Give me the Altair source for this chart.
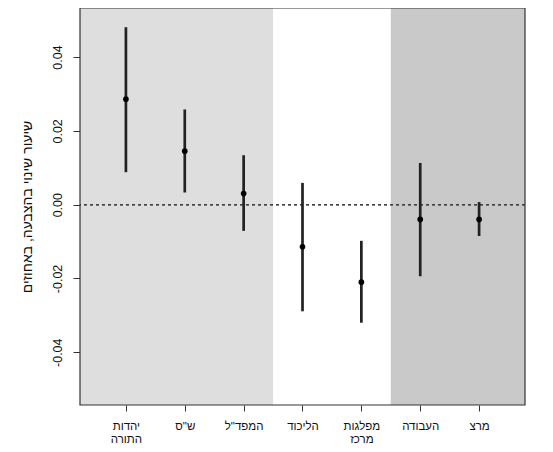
import json
import altair as alt
import pandas as pd

# ---- data ----
party_lines = [["יהדות", "התורה"], ['ש"ס'], ['המפד"ל'], ["הליכוד"],
               ["מפלגות", "מרכז"], ["העבודה"], ["מרצ"]]
positions = [1, 2, 3, 4, 5, 6, 7]
estimate = [0.0286, 0.0145, 0.0030, -0.0114, -0.0210, -0.0040, -0.0040]
ci_low = [0.0088, 0.0033, -0.0071, -0.0289, -0.0320, -0.0194, -0.0085]
ci_high = [0.0481, 0.0258, 0.0134, 0.0059, -0.0098, 0.0113, 0.0007]

band_start = [0.22, 3.5, 5.5]
band_end = [3.5, 5.5, 7.78]
band_group = ["religious", "center", "left"]
band_colors = ["#DEDEDE", "#FFFFFF", "#C9C9C9"]

y_ticks = [-0.04, -0.02, 0.0, 0.02, 0.04]
y_title = "שיעור שינוי בהצבעה, באחוזים"

PLOT_W = 445
PLOT_H = 397
FONT = "Liberation Sans"

points = pd.DataFrame({"pos": positions, "est": estimate, "lo": ci_low, "hi": ci_high})
bands = pd.DataFrame({"start": band_start, "end": band_end, "group": band_group})
frame = pd.DataFrame({"frame": [0]})

xscale = alt.Scale(domain=[0.22, 7.78], nice=False, zero=False)
yscale = alt.Scale(domain=[-0.0543, 0.0533], nice=False, zero=False)

label_expr = json.dumps(party_lines, ensure_ascii=False) + "[datum.value - 1]"

xaxis = alt.Axis(values=positions, labelExpr=label_expr, title=None, grid=False,
                 domain=False, tickSize=6, tickColor="#333", labelFont=FONT,
                 labelFontSize=11.5, labelColor="#111", labelPadding=9,
                 labelLineHeight=13, labelBaseline="top")
yaxis = alt.Axis(values=y_ticks, labelExpr="(datum.value < 0 ? '-' : '') + format(abs(datum.value), '.2f')",
                 title=y_title, grid=False, domain=False, tickSize=7, tickColor="#333",
                 labelAngle=-90, labelAlign="center", labelBaseline="bottom",
                 labelFont=FONT, labelFontSize=12.5, labelColor="#111", labelPadding=9,
                 titleFont=FONT, titleFontSize=14, titleFontWeight="normal",
                 titleColor="#111", titlePadding=17)

band_layer = alt.Chart(bands).mark_rect().encode(
    x=alt.X("start:Q", scale=xscale, axis=xaxis),
    x2="end:Q",
    y=alt.value(0),
    y2=alt.value(PLOT_H),
    color=alt.Color("group:N", scale=alt.Scale(domain=band_group, range=band_colors), legend=None),
)

zero_layer = alt.Chart(points).mark_rule(color="#444", strokeDash=[3, 3], strokeWidth=1).encode(
    y=alt.datum(0, scale=yscale, axis=yaxis),
)

ci_layer = alt.Chart(points).mark_rule(color="#222", strokeWidth=2.7).encode(
    x=alt.X("pos:Q", scale=xscale, axis=xaxis),
    y=alt.Y("lo:Q", scale=yscale, axis=yaxis),
    y2="hi:Q",
)

pt_layer = alt.Chart(points).mark_circle(color="#000", opacity=1, size=32).encode(
    x=alt.X("pos:Q", scale=xscale, axis=xaxis),
    y=alt.Y("est:Q", scale=yscale, axis=yaxis),
)

frame_layer = alt.Chart(frame).mark_rect(fill=None, stroke="#333", strokeWidth=1.2).encode(
    x=alt.value(0), x2=alt.value(PLOT_W), y=alt.value(0), y2=alt.value(PLOT_H),
)

chart = alt.layer(band_layer, zero_layer, ci_layer, pt_layer, frame_layer).properties(
    width=PLOT_W, height=PLOT_H,
    autosize=alt.AutoSizeParams(type="none"),
    padding={"left": 72, "top": 0, "right": 20, "bottom": 40},
    background="white",
).configure_view(stroke=None)

chart.save("out.html", embed_options={"renderer": "svg", "actions": False})
